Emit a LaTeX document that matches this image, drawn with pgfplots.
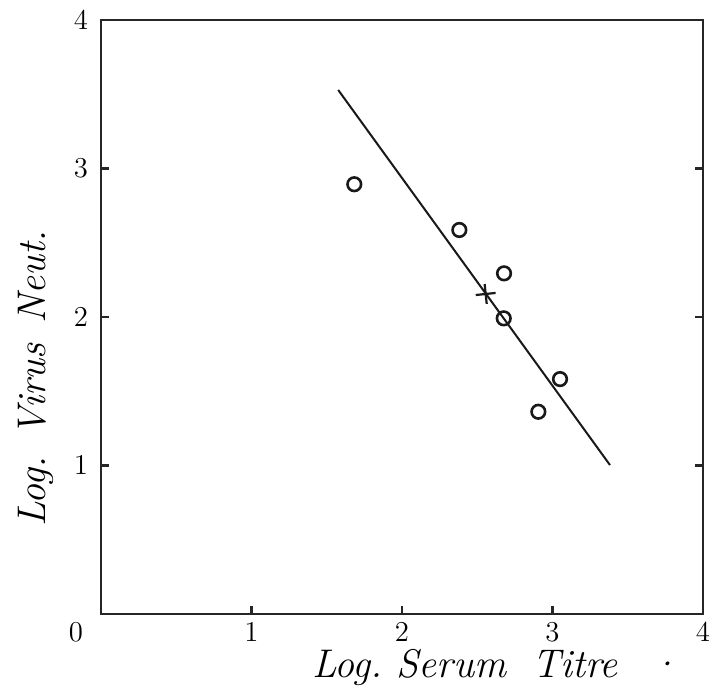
\documentclass[border=0pt]{standalone}
\usepackage{pgfplots}
\pgfplotsset{compat=1.18}
\begin{document}
\begin{tikzpicture}
\begin{axis}[
  name=ax,
  scale only axis,
  width=301pt, height=297pt,
  xmin=0, xmax=4, ymin=0, ymax=4,
  xtick={1,2,3,4}, ytick={1,2,3,4},
  extra x ticks={0},
  extra x tick style={major tick length=0pt, xticklabel style={xshift=-12.5pt}},
  xtick pos=bottom, ytick pos=both,
  tick align=inside,
  major tick length=3.8pt,
  axis line style={line width=1.2pt, black!85},
  tick style={line width=1.1pt, black!85},
  tick label style={font=\fontsize{14.5}{16}\selectfont\bfseries},
  xticklabel style={yshift=-1pt},
  yticklabel style={xshift=-3pt},
  xlabel={\fontsize{20}{23}\selectfont\itshape Log.\ Serum\hspace{0.65em}Titre\hspace{0.8em}\textperiodcentered},
  ylabel={\fontsize{20}{23}\selectfont\itshape Log.\hspace{0.5em}Virus\hspace{0.5em}Neut.},
  xlabel style={at={(rel axis cs:0.3389,0)}, anchor=base west, yshift=-31.5pt},
  ylabel style={at={(rel axis cs:0,0.135)}, anchor=base west, yshift=28pt},
]
\addplot[line width=1pt, black!90] coordinates {(1.576,3.529) (3.382,1.003)};
\addplot[only marks, mark=o, mark size=3.4pt, mark options={line width=1.3pt, black!90}] coordinates {
  (1.683,2.894) (2.381,2.586) (2.678,2.294) (2.676,1.991) (3.050,1.582) (2.906,1.362)};
\addplot[only marks, mark=+, mark size=5pt, mark options={line width=1.1pt, black!90, rotate=6}] coordinates {(2.556,2.155)};
\end{axis}
\pgfresetboundingbox
\path[use as bounding box] ([shift={(-50.5pt,-41pt)}]ax.south west) rectangle ([shift={(3.5pt,10pt)}]ax.north east);
\end{tikzpicture}
\end{document}
